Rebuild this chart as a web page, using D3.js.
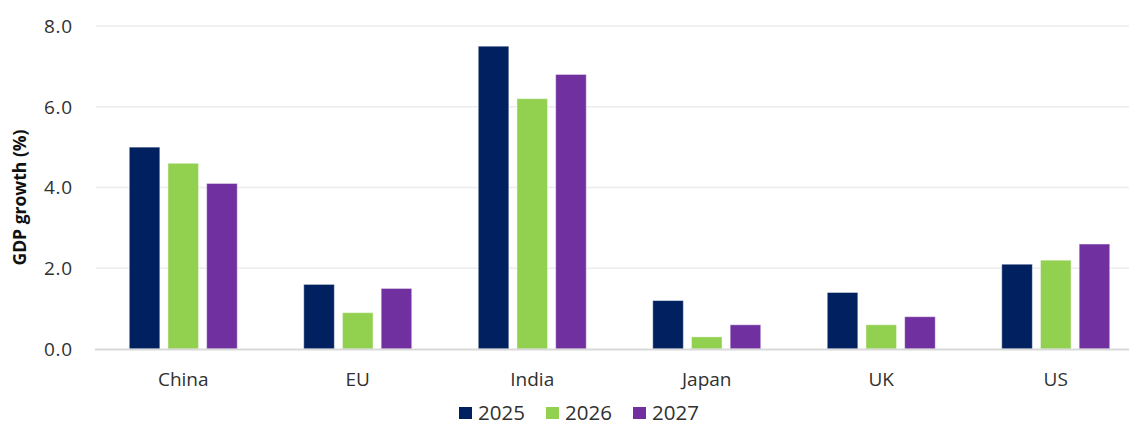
<!DOCTYPE html>
<html>
<head>
<meta charset="utf-8">
<script src="https://cdn.jsdelivr.net/npm/d3@7"></script>
<style>
  html, body { margin: 0; padding: 0; background: #fff; }
  svg { display: block; font-family: "Open Sans", "Noto Sans", sans-serif; }
</style>
</head>
<body>
<svg id="chart" width="1129" height="421"></svg>
<script>
// GDP growth forecasts by economy
const categories = ["China", "EU", "India", "Japan", "UK", "US"];
const seriesNames = ["2025", "2026", "2027"];
const values2025 = [5.0, 1.6, 7.5, 1.2, 1.4, 2.1];
const values2026 = [4.6, 0.9, 6.2, 0.3, 0.6, 2.2];
const values2027 = [4.1, 1.5, 6.8, 0.6, 0.8, 2.6];
const yTicks = [0, 2, 4, 6, 8];
const colors = ["#00205F", "#92D050", "#7030A0"];

const series = [values2025, values2026, values2027];
const data = categories.map((c, i) => ({
  category: c,
  values: seriesNames.map((s, j) => ({ key: s, value: series[j][i], color: colors[j] }))
}));

const svg = d3.select("#chart");
const W = 1129;
const plot = { left: 96, right: 1143, top: 26, bottom: 349 };
const textColor = "#303030";

const x = d3.scaleBand().domain(categories).range([plot.left, plot.right]).paddingInner(0).paddingOuter(0);
const groupWidth = 108;
const x1 = d3.scaleBand().domain(seriesNames).range([0, groupWidth]).paddingInner(0.21).paddingOuter(0);
const y = d3.scaleLinear().domain([0, 8]).range([plot.bottom, plot.top]);

// gridlines
svg.append("g")
  .selectAll("line")
  .data(yTicks.filter(t => t > 0))
  .join("line")
  .attr("x1", plot.left).attr("x2", W)
  .attr("y1", d => y(d)).attr("y2", d => y(d))
  .attr("stroke", "#ececec").attr("stroke-width", 1.5);

// y axis tick labels
const yAxis = d3.axisLeft(y).tickValues(yTicks).tickFormat(d3.format(".1f")).tickSize(0).tickPadding(0);
const yg = svg.append("g").attr("transform", `translate(73,0)`).call(yAxis);
yg.select(".domain").remove();
yg.selectAll("text")
  .attr("fill", textColor).attr("font-size", 19).attr("dy", "0.33em")
  .attr("letter-spacing", 0.8)
  .attr("font-family", "'Open Sans', sans-serif");

// bars
const groups = svg.append("g")
  .selectAll("g")
  .data(data)
  .join("g")
  .attr("transform", d => `translate(${x(d.category) + (x.bandwidth() - groupWidth) / 2},0)`);

groups.selectAll("rect")
  .data(d => d.values)
  .join("rect")
  .attr("x", d => x1(d.key))
  .attr("width", x1.bandwidth())
  .attr("y", d => y(d.value))
  .attr("height", d => y(0) - y(d.value))
  .attr("fill", d => d.color)
  .attr("stroke", "rgba(255,255,255,0.45)")
  .attr("stroke-width", 1);

// baseline
svg.append("line")
  .attr("x1", plot.left - 1).attr("x2", W)
  .attr("y1", y(0) + 0.5).attr("y2", y(0) + 0.5)
  .attr("stroke", "#d9d9d9").attr("stroke-width", 2);

// x axis labels
const xAxis = d3.axisBottom(x).tickSize(0).tickPadding(0);
const xg = svg.append("g").attr("transform", `translate(0,386)`).call(xAxis);
xg.select(".domain").remove();
xg.selectAll("text")
  .attr("y", 0).attr("dy", 0)
  .attr("fill", textColor).attr("font-size", 19)
  .attr("font-family", "'Open Sans', sans-serif");

// y axis title
svg.append("text")
  .attr("transform", `translate(26,${(plot.top + plot.bottom) / 2 + 10}) rotate(-90)`)
  .attr("text-anchor", "middle")
  .attr("font-size", 17.5).attr("font-weight", "bold").attr("fill", "#111")
  .text("GDP growth (%)");

// legend
const legendX = [459, 546, 633];
const legend = svg.append("g")
  .selectAll("g")
  .data(seriesNames)
  .join("g")
  .attr("transform", (d, i) => `translate(${legendX[i]},407)`);
legend.append("rect")
  .attr("width", 13).attr("height", 12)
  .attr("fill", (d, i) => colors[i]);
legend.append("text")
  .attr("x", 19).attr("y", 12.5)
  .attr("font-size", 20.5).attr("fill", textColor)
  .text(d => d);
</script>
</body>
</html>
